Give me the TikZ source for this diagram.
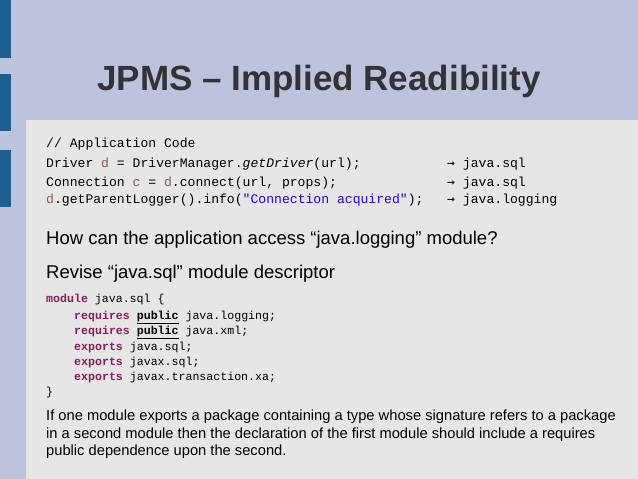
\documentclass[tikz,border=0pt]{standalone}
\usepackage{fontspec}
\setmainfont{Liberation Sans}
\setmonofont{Liberation Mono}
\newfontfamily\arr{DejaVu Sans Mono}
\definecolor{bgc}{HTML}{BDC3DD}
\definecolor{barc}{HTML}{1F5F8F}
\definecolor{panel}{HTML}{E6E6E6}
\definecolor{kw}{HTML}{8B1A5E}
\definecolor{var}{HTML}{8B5A5A}
\definecolor{str}{HTML}{2A00D0}
\definecolor{tc}{HTML}{333333}
\newcommand{\K}[1]{\textcolor{kw}{\textbf{#1}}}
\begin{document}
\begin{tikzpicture}[x=1pt,y=-1pt,
  code/.style={anchor=base west,inner sep=0,font=\ttfamily\fontsize{13.1}{14}\selectfont,text=black},
  codes/.style={anchor=base west,inner sep=0,font=\ttfamily\fontsize{11.6}{12}\selectfont,text=black},
  body/.style={anchor=base west,inner sep=0,font=\fontsize{18.5}{22}\selectfont,text=black},
  small/.style={anchor=north west,inner sep=0,align=left,font=\fontsize{14.7}{17.5}\selectfont,text=black}]
\fill[bgc] (0,0) rectangle (638,479);
\useasboundingbox (0,0) rectangle (638,479);
\fill[barc] (0,0) rectangle (11,58);
\fill[barc] (0,74) rectangle (11,131);
\fill[barc] (0,150) rectangle (11,207);
\fill[panel] (26,120) rectangle (638,479);
\node[anchor=base,inner sep=0,text=tc,font=\bfseries\fontsize{35}{40}\selectfont] (title) at (319,90) {JPMS – Implied Readibility};
\node[code] (c0) at (46,147) {// Application Code};
\node[code] (c1) at (46,167) {Driver \textcolor{var}{d} = DriverManager.\textit{getDriver}(url);};
\node[code] (c2) at (46,186) {Connection \textcolor{var}{c} = \textcolor{var}{d}.connect(url, props);};
\node[code] (c3) at (46,203) {\textcolor{var}{d}.getParentLogger().info(\textcolor{str}{"Connection acquired"});};
\node[code] (a1) at (447,167) {{\arr →} java.sql};
\node[code] (a2) at (447,186) {{\arr →} java.sql};
\node[code] (a3) at (447,203) {{\arr →} java.logging};
\node[body] (q) at (46,244) {How can the application access “java.logging” module?};
\node[body] (r) at (46,278) {Revise “java.sql” module descriptor};
\node[codes] (m0) at (46,302) {\K{module} java.sql \{};
\node[codes] (m1) at (74,319) {\K{requires} \underline{\textbf{public}} java.logging;};
\node[codes] (m2) at (74,334) {\K{requires} \underline{\textbf{public}} java.xml;};
\node[codes] (m3) at (74,350) {\K{exports} java.sql;};
\node[codes] (m4) at (74,365) {\K{exports} javax.sql;};
\node[codes] (m5) at (74,380) {\K{exports} javax.transaction.xa;};
\node[codes] (m6) at (46,395) {\}};
\node[small] (p) at (46,410) {If one module exports a package containing a type whose signature refers to a package\\in a second module then the declaration of the first module should include a requires\\public dependence upon the second.};
\end{tikzpicture}
\end{document}
